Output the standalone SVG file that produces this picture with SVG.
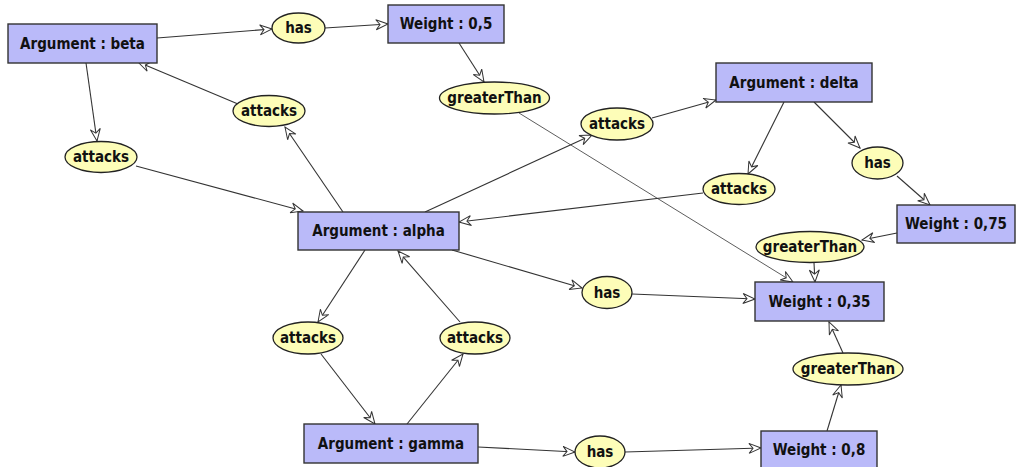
<svg xmlns="http://www.w3.org/2000/svg" width="1019" height="467" viewBox="0 0 1019 467">
  <style>
    .box { fill: #babaf9; stroke: #333; stroke-width: 1.4; }
    .rel { fill: #fdfdb8; stroke: #222; stroke-width: 1.3; }
    .lbl { font-family: "DejaVu Sans Condensed", "DejaVu Sans", sans-serif; font-stretch: condensed; font-weight: bold; font-size: 15px; fill: #111; text-anchor: middle; dominant-baseline: central; }
    .edge { fill: none; stroke: #333; stroke-width: 1.1; marker-end: url(#arr); }
    .thin { stroke-width: 0.8; }
  </style>
  <defs>
    <marker id="arr" viewBox="0 0 14 12" refX="13" refY="6" markerWidth="14" markerHeight="12" markerUnits="userSpaceOnUse" orient="auto">
      <path d="M1,1 L13,6 L1,11 L5,6 Z" fill="#fff" stroke="#333" stroke-width="1"/>
    </marker>
  </defs>
  <rect width="1019" height="467" fill="#fff"/>

  <g id="connectors">
    <line class="edge" x1="157" y1="38" x2="272" y2="29"/>
    <line class="edge" x1="325" y1="28" x2="388" y2="24"/>
    <line class="edge" x1="459" y1="43" x2="484" y2="82"/>
    <line class="edge thin" x1="519" y1="113" x2="793" y2="282"/>
    <line class="edge" x1="86" y1="63" x2="97" y2="141"/>
    <line class="edge" x1="136" y1="166" x2="303" y2="211"/>
    <line class="edge" x1="343" y1="212" x2="285" y2="127"/>
    <line class="edge" x1="238" y1="104" x2="138" y2="62"/>
    <line class="edge" x1="425" y1="212" x2="592" y2="135"/>
    <line class="edge" x1="652" y1="118" x2="716" y2="100"/>
    <line class="edge" x1="784" y1="102" x2="748" y2="174"/>
    <line class="edge" x1="703" y1="193" x2="459" y2="222"/>
    <line class="edge" x1="814" y1="102" x2="860" y2="148"/>
    <line class="edge" x1="897" y1="176" x2="930" y2="205"/>
    <line class="edge" x1="897" y1="233" x2="862" y2="240"/>
    <line class="edge" x1="814" y1="263" x2="815" y2="282"/>
    <line class="edge" x1="452" y1="250" x2="582" y2="288"/>
    <line class="edge" x1="632" y1="294" x2="755" y2="299"/>
    <line class="edge" x1="827" y1="431" x2="841" y2="385"/>
    <line class="edge" x1="843" y1="353" x2="829" y2="322"/>
    <line class="edge" x1="365" y1="250" x2="318" y2="322"/>
    <line class="edge" x1="321" y1="354" x2="375" y2="424"/>
    <line class="edge" x1="407" y1="424" x2="463" y2="354"/>
    <line class="edge" x1="460" y1="322" x2="398" y2="251"/>
    <line class="edge" x1="478" y1="447" x2="575" y2="452"/>
    <line class="edge" x1="625" y1="452" x2="761" y2="448"/>
  </g>

  <g id="arg-beta"><rect class="box" x="8" y="24" width="149" height="39"/><text class="lbl" x="82.5" y="43.5">Argument : beta</text></g>
  <g id="has-beta"><ellipse class="rel" cx="298.5" cy="28" rx="26.5" ry="15"/><text class="lbl" x="298.5" y="28">has</text></g>
  <g id="weight-05"><rect class="box" x="388" y="5" width="116" height="38"/><text class="lbl" x="446" y="24">Weight : 0,5</text></g>
  <g id="gt-05"><ellipse class="rel" cx="494.5" cy="98" rx="55" ry="16"/><text class="lbl" x="494.5" y="98">greaterThan</text></g>
  <g id="att-beta-alpha"><ellipse class="rel" cx="101" cy="157" rx="36" ry="15.5"/><text class="lbl" x="101" y="157">attacks</text></g>
  <g id="att-alpha-beta"><ellipse class="rel" cx="269" cy="111" rx="36" ry="15.5"/><text class="lbl" x="269" y="111">attacks</text></g>
  <g id="att-alpha-delta"><ellipse class="rel" cx="617" cy="124" rx="36" ry="16"/><text class="lbl" x="617" y="124">attacks</text></g>
  <g id="arg-delta"><rect class="box" x="716" y="63" width="156" height="39"/><text class="lbl" x="794" y="82.5">Argument : delta</text></g>
  <g id="has-delta"><ellipse class="rel" cx="877.5" cy="163" rx="25.5" ry="16"/><text class="lbl" x="877.5" y="163">has</text></g>
  <g id="att-delta-alpha"><ellipse class="rel" cx="739" cy="189" rx="36" ry="15.5"/><text class="lbl" x="739" y="189">attacks</text></g>
  <g id="weight-075"><rect class="box" x="897" y="205" width="118" height="38"/><text class="lbl" x="956" y="224">Weight : 0,75</text></g>
  <g id="gt-075"><ellipse class="rel" cx="810" cy="247" rx="54" ry="15.5"/><text class="lbl" x="810" y="247">greaterThan</text></g>
  <g id="arg-alpha"><rect class="box" x="298" y="212" width="161" height="38"/><text class="lbl" x="378.5" y="231">Argument : alpha</text></g>
  <g id="has-alpha"><ellipse class="rel" cx="607" cy="292.5" rx="25" ry="16"/><text class="lbl" x="607" y="292.5">has</text></g>
  <g id="weight-035"><rect class="box" x="755" y="282" width="129" height="39"/><text class="lbl" x="819.5" y="301.5">Weight : 0,35</text></g>
  <g id="att-alpha-gamma"><ellipse class="rel" cx="308" cy="338" rx="35" ry="16"/><text class="lbl" x="308" y="338">attacks</text></g>
  <g id="att-gamma-alpha"><ellipse class="rel" cx="475" cy="338" rx="35" ry="16"/><text class="lbl" x="475" y="338">attacks</text></g>
  <g id="gt-08"><ellipse class="rel" cx="848" cy="369" rx="55" ry="16"/><text class="lbl" x="848" y="369">greaterThan</text></g>
  <g id="arg-gamma"><rect class="box" x="304" y="424" width="174" height="39"/><text class="lbl" x="391" y="443.5">Argument : gamma</text></g>
  <g id="has-gamma"><ellipse class="rel" cx="600" cy="452" rx="25" ry="16"/><text class="lbl" x="600" y="452">has</text></g>
  <g id="weight-08"><rect class="box" x="761" y="431" width="116" height="38"/><text class="lbl" x="819" y="450">Weight : 0,8</text></g>
</svg>
